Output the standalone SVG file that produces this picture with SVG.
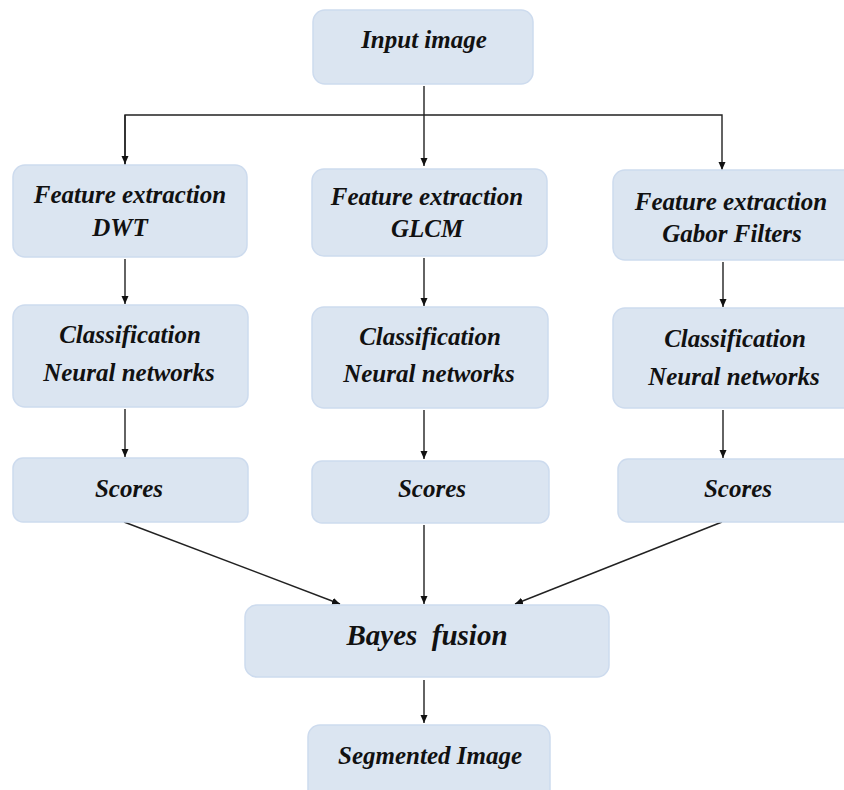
<svg xmlns="http://www.w3.org/2000/svg" width="844" height="790" viewBox="0 0 844 790">
<style>
.box{fill:#dbe5f1;stroke:#cddbee;stroke-width:1.5}
.t{font-family:"Liberation Serif","Times New Roman","DejaVu Serif",serif;font-weight:bold;font-style:italic;font-size:25px;fill:#111;text-anchor:middle}
.big{font-size:29px}
.c{fill:none;stroke:#222;stroke-width:1.4}
</style>
<defs>
<marker id="ah" markerUnits="userSpaceOnUse" markerWidth="9" markerHeight="8" refX="8" refY="3.5" orient="auto">
<path d="M0,0 L8,3.5 L0,7 z" fill="#111"/>
</marker>
</defs>
<rect width="844" height="790" fill="#ffffff"/>
<g id="connectors">
<path class="c" d="M424,86 V166" marker-end="url(#ah)"/>
<path class="c" d="M125,165 V115 H722 V170" marker-end="url(#ah)"/>
<path class="c" d="M125,115 V164" marker-end="url(#ah)"/>
<path class="c" d="M125,259 V304" marker-end="url(#ah)"/>
<path class="c" d="M424,258 V306" marker-end="url(#ah)"/>
<path class="c" d="M723,262 V307" marker-end="url(#ah)"/>
<path class="c" d="M125,409 V457" marker-end="url(#ah)"/>
<path class="c" d="M424,410 V459" marker-end="url(#ah)"/>
<path class="c" d="M723,410 V458" marker-end="url(#ah)"/>
<path class="c" d="M124,522 L340,604" marker-end="url(#ah)"/>
<path class="c" d="M424,525 V604" marker-end="url(#ah)"/>
<path class="c" d="M722,522 L515,604" marker-end="url(#ah)"/>
<path class="c" d="M424,680 V723" marker-end="url(#ah)"/>
</g>
<g id="input">
<rect class="box" x="313" y="10" width="220" height="74" rx="12"/>
<text class="t" x="424" y="48">Input image</text>
</g>
<g id="fe-dwt">
<rect class="box" x="13" y="165" width="234" height="92" rx="12"/>
<text class="t" x="130" y="203">Feature extraction</text>
<text class="t" x="120" y="236">DWT</text>
</g>
<g id="fe-glcm">
<rect class="box" x="312" y="169" width="235" height="87" rx="12"/>
<text class="t" x="427" y="205">Feature extraction</text>
<text class="t" x="427" y="237">GLCM</text>
</g>
<g id="fe-gabor">
<rect class="box" x="613" y="170" width="245" height="90" rx="12"/>
<text class="t" x="731" y="210">Feature extraction</text>
<text class="t" x="732" y="242">Gabor Filters</text>
</g>
<g id="cls-dwt">
<rect class="box" x="13" y="305" width="235" height="102" rx="12"/>
<text class="t" x="130" y="343">Classification</text>
<text class="t" x="129" y="381">Neural networks</text>
</g>
<g id="cls-glcm">
<rect class="box" x="312" y="307" width="236" height="101" rx="12"/>
<text class="t" x="430" y="345">Classification</text>
<text class="t" x="429" y="382">Neural networks</text>
</g>
<g id="cls-gabor">
<rect class="box" x="613" y="308" width="245" height="100" rx="12"/>
<text class="t" x="735" y="347">Classification</text>
<text class="t" x="734" y="385">Neural networks</text>
</g>
<g id="sc-dwt">
<rect class="box" x="13" y="458" width="235" height="64" rx="10"/>
<text class="t" x="129" y="497">Scores</text>
</g>
<g id="sc-glcm">
<rect class="box" x="312" y="461" width="237" height="62" rx="10"/>
<text class="t" x="432" y="497">Scores</text>
</g>
<g id="sc-gabor">
<rect class="box" x="618" y="459" width="240" height="63" rx="10"/>
<text class="t" x="738" y="497">Scores</text>
</g>
<g id="bayes">
<rect class="box" x="245" y="605" width="364" height="72" rx="12"/>
<text class="t big" x="427" y="645" xml:space="preserve">Bayes  fusion</text>
</g>
<g id="segmented">
<rect class="box" x="308" y="725" width="242" height="80" rx="12"/>
<text class="t" x="430" y="764">Segmented Image</text>
</g>
</svg>
